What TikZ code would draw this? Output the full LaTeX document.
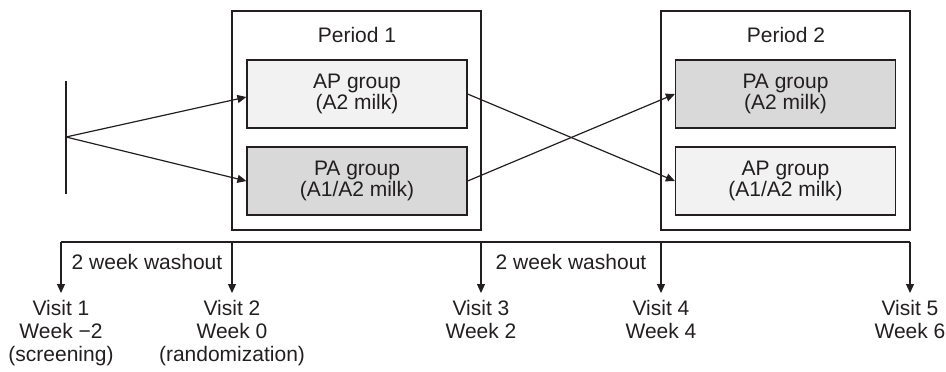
\documentclass[tikz,border=0pt]{standalone}
\usepackage{fontspec}
\setmainfont{Liberation Sans}
\usetikzlibrary{arrows.meta,positioning}
\definecolor{ink}{RGB}{35,31,32}
\definecolor{lightfill}{RGB}{242,242,242}
\definecolor{darkfill}{RGB}{217,217,217}
\begin{document}
\begin{tikzpicture}[x=0.5pt,y=-0.5pt,
  font=\fontsize{10.5}{11.5}\selectfont,
  every node/.style={text=ink},
  period/.style={draw=ink,line width=0.6pt,minimum width=124.5pt,minimum height=109.5pt,inner sep=0pt},
  grp/.style={draw=ink,line width=0.6pt,minimum width=110pt,minimum height=34pt,inner sep=0pt,align=center,font=\fontsize{10.5}{9.3}\selectfont},
  lightgrp/.style={grp,fill=lightfill},
  darkgrp/.style={grp,fill=darkfill},
  conn/.style={draw=ink,line width=0.6pt,-{Triangle[length=4.5pt,width=4pt]}},
  plain/.style={draw=ink,line width=0.6pt},
  visit/.style={align=center,anchor=north,inner sep=0pt,font=\fontsize{10.5}{11.5}\selectfont},
  lbl/.style={inner sep=0pt}]
\useasboundingbox (0,0) rectangle (946,371);
% period boxes
\node[period] (p1) at (356.5,120.5) {};
\node[period] (p2) at (785.5,120.5) {};
\node[lbl] (p1t) at (357,35) {Period 1};
\node[lbl] (p2t) at (786,35) {Period 2};
% groups
\node[lightgrp] (ap1) at (357,94) {AP group\\(A2 milk)};
\node[darkgrp] (pa1) at (357,181) {PA group\\(A1/A2 milk)};
\node[darkgrp] (pa2) at (785.5,94) {PA group\\(A2 milk)};
\node[lightgrp] (ap2) at (785.5,181) {AP group\\(A1/A2 milk)};
% randomization line
\coordinate (rt) at (66,81);
\coordinate (rb) at (66,194);
\coordinate (rm) at (66,137);
\draw[plain] (rt) -- (rb);
\draw[conn] (rm) -- ([yshift=-1.5pt]ap1.west);
\draw[conn] (rm) -- (pa1.west);
% crossover
\draw[conn] (ap1.east) -- (ap2.west);
\draw[conn] (pa1.east) -- (pa2.west);
% timeline
\coordinate (t1) at (61,242);
\coordinate (t2) at (232,242);
\coordinate (t3) at (481,242);
\coordinate (t4) at (661,242);
\coordinate (t5) at (910,242);
\draw[plain] (t1) -- (t5);
\node[visit] (v1) at (61,300) {Visit 1\\Week −2\\(screening)};
\node[visit] (v2) at (232,300) {Visit 2\\Week 0\\(randomization)};
\node[visit] (v3) at (481,300) {Visit 3\\Week 2};
\node[visit] (v4) at (661,300) {Visit 4\\Week 4};
\node[visit] (v5) at (910,300) {Visit 5\\Week 6};
\foreach \t/\v in {t1/v1,t2/v2,t3/v3,t4/v4,t5/v5}
  \draw[conn] (\t) -- ([yshift=3.5pt]\v.north);
\node[lbl] (w1) at (147,262) {2 week washout};
\node[lbl] (w2) at (571,262) {2 week washout};
\end{tikzpicture}
\end{document}
